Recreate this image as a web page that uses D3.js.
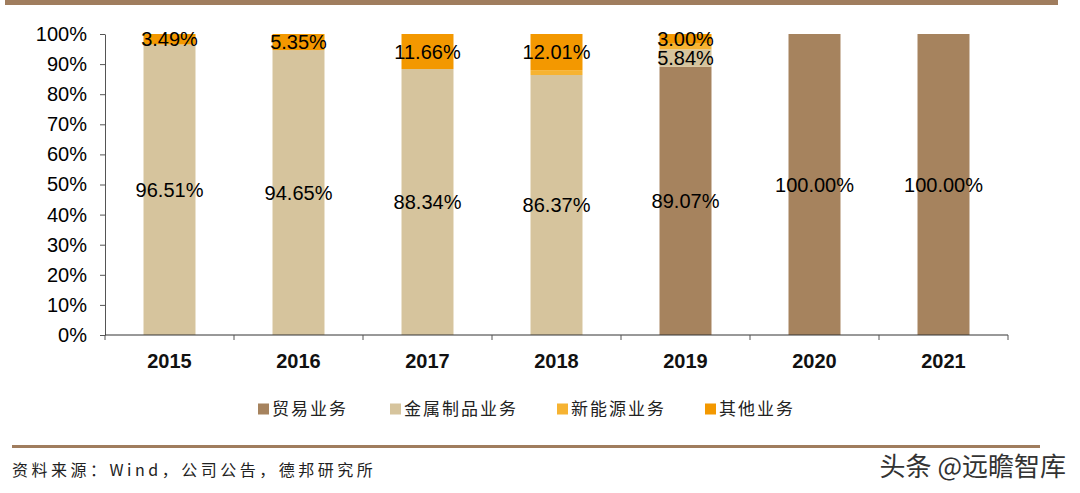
<!DOCTYPE html>
<html>
<head>
<meta charset="utf-8">
<title>业务结构</title>
<script src="https://d3js.org/d3.v7.min.js"></script>
<style>
  body { margin: 0; background: #fff; }
  svg { display: block; }
  text { font-family: "Liberation Sans", Arial, sans-serif; }
  .cjk { font-family: "Noto Sans CJK SC", sans-serif; }
</style>
</head>
<body>
<svg id="chart" width="1080" height="493"></svg>
<script>
const years = ['2015', '2016', '2017', '2018', '2019', '2020', '2021'];
const seriesNames = ['贸易业务', '金属制品业务', '新能源业务', '其他业务'];
const trade     = [0, 0, 0, 0, 89.07, 100, 100];
const metal     = [96.51, 94.65, 88.34, 86.37, 5.84, 0, 0];
const newEnergy = [0, 0, 0, 1.62, 2.09, 0, 0];
const other     = [3.49, 5.35, 11.66, 12.01, 3.00, 0, 0];
const yTicks = [0, 10, 20, 30, 40, 50, 60, 70, 80, 90, 100];

const colors = ['#a6835e', '#d6c49d', '#f6b332', '#f39800'];

const rows = years.map((y, i) => ({
  year: y, '贸易业务': trade[i], '金属制品业务': metal[i],
  '新能源业务': newEnergy[i], '其他业务': other[i]
}));

const svg = d3.select('#chart');

const x = d3.scaleBand().domain(years).range([105, 1008])
  .paddingInner(0.597).paddingOuter(0.2985);
const y = d3.scaleLinear().domain([0, 100]).range([335, 34]);
const color = d3.scaleOrdinal().domain(seriesNames).range(colors);

// header and footer rules
svg.append('rect').attr('x', 5).attr('y', 0).attr('width', 1053).attr('height', 5).style('fill', '#a07d5e');
svg.append('rect').attr('x', 12).attr('y', 445).attr('width', 1028).attr('height', 3).style('fill', '#a07d5e');

// bars
const stacked = d3.stack().keys(seriesNames)(rows);
svg.append('g').selectAll('g')
  .data(stacked).join('g')
  .style('fill', d => color(d.key))
  .selectAll('rect')
  .data(d => d).join('rect')
  .attr('x', d => x(d.data.year))
  .attr('width', x.bandwidth())
  .attr('y', d => y(d[1]))
  .attr('height', d => y(d[0]) - y(d[1]));

// y axis
const yAxis = svg.append('g').attr('transform', 'translate(105,0)')
  .call(d3.axisLeft(y).tickValues(yTicks).tickFormat(d => d + '%').tickSize(5).tickSizeOuter(0));
yAxis.select('.domain').style('stroke', '#555');
yAxis.selectAll('.tick line').style('stroke', '#555');
yAxis.selectAll('.tick text').attr('x', -18).style('font-size', '20px').style('fill', '#000')
  .style('font-family', '"Liberation Sans", Arial, sans-serif');

// x axis
svg.append('line').attr('x1', 105).attr('x2', 1008).attr('y1', 335).attr('y2', 335).style('stroke', '#333');
const step = x.step();
svg.append('g').selectAll('line')
  .data(d3.range(years.length + 1)).join('line')
  .attr('x1', i => 105 + i * step).attr('x2', i => 105 + i * step)
  .attr('y1', 335).attr('y2', 340).style('stroke', '#555');
svg.append('g').selectAll('text')
  .data(years).join('text')
  .attr('x', d => x(d) + x.bandwidth() / 2)
  .attr('y', 368)
  .attr('text-anchor', 'middle')
  .style('font-size', '20px').style('font-weight', 'bold').style('fill', '#111')
  .text(d => d);

// data labels
const labels = [];
stacked.forEach(s => s.forEach(d => {
  const v = d[1] - d[0];
  if (v >= 3) labels.push({ year: d.data.year, mid: (d[0] + d[1]) / 2, v: v });
}));
svg.append('g').selectAll('text')
  .data(labels).join('text')
  .attr('x', d => x(d.year) + x.bandwidth() / 2)
  .attr('y', d => y(d.mid))
  .attr('dy', '0.35em')
  .attr('text-anchor', 'middle')
  .style('font-size', '20px').style('fill', '#000')
  .text(d => d.v.toFixed(2) + '%');

// legend
const legendX = [258, 390, 557, 705];
const lg = svg.append('g').selectAll('g')
  .data(seriesNames).join('g')
  .attr('transform', (d, i) => `translate(${legendX[i]},409)`);
lg.append('rect').attr('x', 0).attr('y', -5.5).attr('width', 11).attr('height', 11)
  .style('fill', d => color(d));
lg.append('text').attr('class', 'cjk').attr('x', 14).attr('dy', '0.36em')
  .style('font-size', '17px').style('letter-spacing', '2px').style('fill', '#222')
  .text(d => d);

// source and watermark
svg.append('text').attr('class', 'cjk').attr('x', 12).attr('y', 476)
  .style('font-size', '16px').style('letter-spacing', '3.5px').style('fill', '#222')
  .text('资料来源：Wind，公司公告，德邦研究所');
svg.append('text').attr('class', 'cjk').attr('x', 1066).attr('y', 476)
  .attr('text-anchor', 'end')
  .style('font-size', '26px').style('fill', '#333')
  .text('头条 @远瞻智库');
</script>
</body>
</html>
